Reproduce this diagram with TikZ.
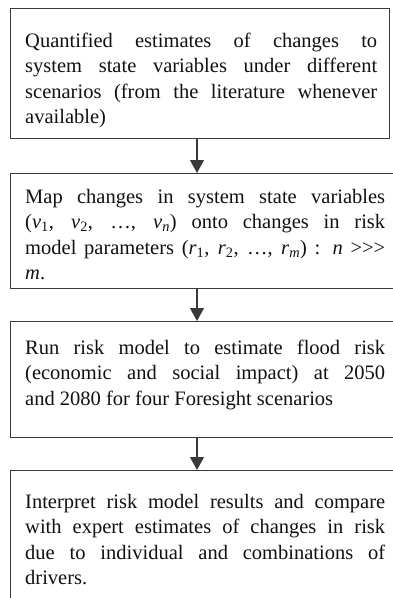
\documentclass[tikz,border=0pt]{standalone}
\usepackage{fontspec}
\setmainfont{Liberation Serif}
\usetikzlibrary{arrows.meta}
\definecolor{edge}{HTML}{3A3A3A}
\definecolor{ink}{HTML}{111111}
\newcommand{\vsub}[2]{\textit{#1}\textsubscript{#2}}
\tikzset{
  box/.style={draw=edge, line width=1.2pt, inner sep=0pt, anchor=north west, fill=none},
  txt/.style={anchor=base west, inner sep=0pt, align=justify, text=ink,
    font=\fontsize{20.5}{25.5}\selectfont},
  arr/.style={draw=edge, line width=1.2pt, -{Triangle[width=14pt,length=13pt]}}
}
\begin{document}
\begin{tikzpicture}[x=1pt,y=-1pt]
\useasboundingbox (0,0) rectangle (393,598);
\clip (0,0) rectangle (393,598);
\node[box, minimum width=379pt, minimum height=130pt] (b1) at (10,8) {};
\node[box, minimum width=400pt, minimum height=115pt] (b2) at (10,173) {};
\node[box, minimum width=400pt, minimum height=116pt] (b3) at (10,321) {};
\node[box, minimum width=400pt, minimum height=150pt] (b4) at (10,470) {};
\coordinate (ax) at (197,0);
\node[txt, text width=352pt] (t1) at (25,47) {Quantified estimates of changes to\linebreak system state variables under different\linebreak scenarios (from the literature whenever\linebreak available)};
\node[txt, text width=360pt] (t2) at (25,203) {Map changes in system state variables\linebreak (\vsub{v}{1}, \vsub{v}{2}, …, \vsub{v}{\textit{n}}) onto changes in risk\linebreak model parameters (\vsub{r}{1}, \vsub{r}{2}, …, \vsub{r}{\textit{m}}) : \textit{n} {>}{>}{>}\linebreak \textit{m}.};
\node[txt, text width=360pt] (t3) at (25,354) {Run risk model to estimate flood risk\linebreak (economic and social impact) at 2050\linebreak and 2080 for four Foresight scenarios};
\node[txt, text width=360pt] (t4) at (25,508) {Interpret risk model results and compare\linebreak with expert estimates of changes in risk\linebreak due to individual and combinations of\linebreak drivers.};
\draw[arr] (b1.south -| ax) -- (b2.north -| ax);
\draw[arr] (b2.south -| ax) -- (b3.north -| ax);
\draw[arr] (b3.south -| ax) -- (b4.north -| ax);
\end{tikzpicture}
\end{document}
